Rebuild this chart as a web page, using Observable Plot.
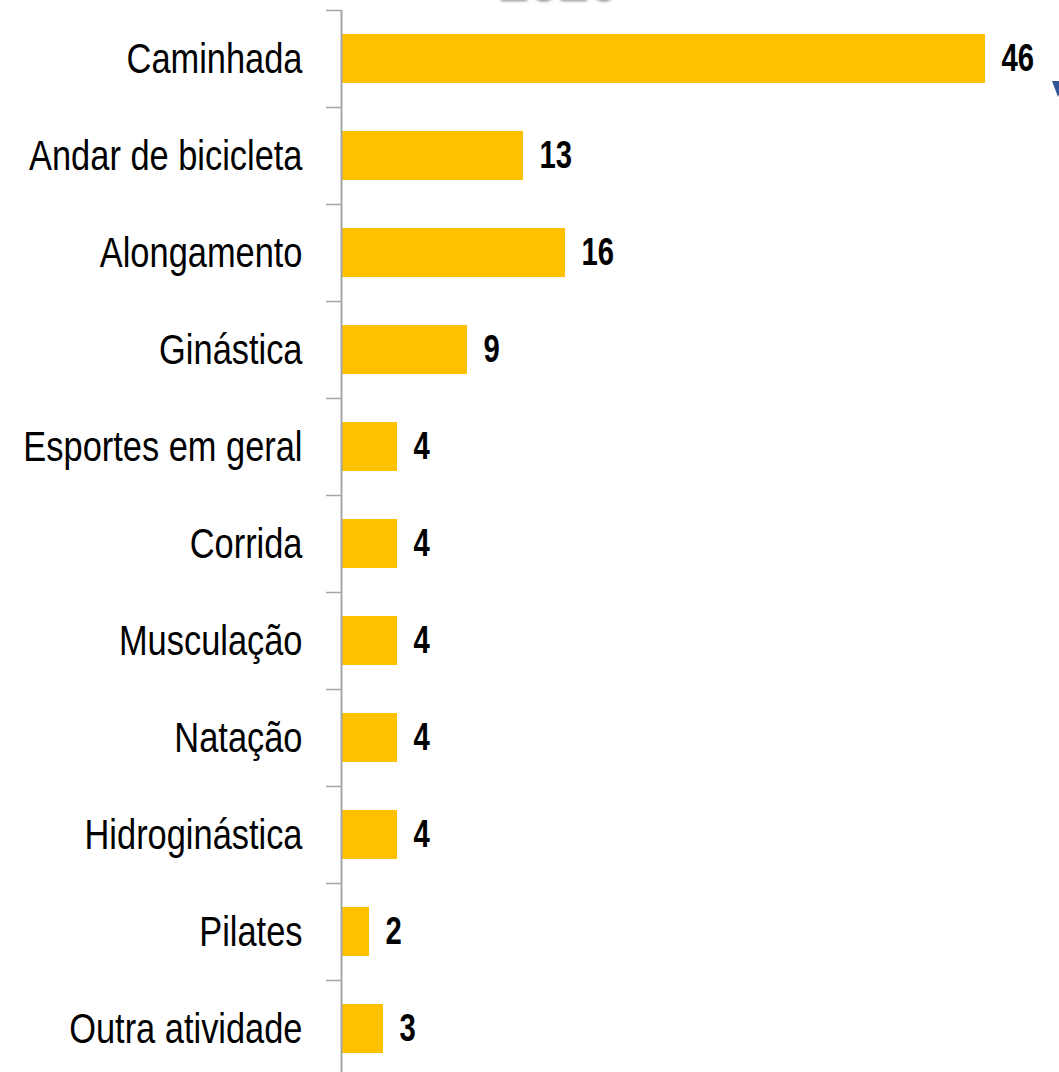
<!DOCTYPE html>
<html>
<head>
<meta charset="utf-8">
<script src="https://cdn.jsdelivr.net/npm/d3@7"></script>
<script src="https://cdn.jsdelivr.net/npm/@observablehq/plot@0.6"></script>
<style>
  html, body { margin: 0; padding: 0; background: #fff; overflow: hidden; }
  #wrap { position: relative; width: 1059px; height: 1072px; overflow: hidden; }
  #title { position: absolute; left: 497px; top: -52px; font: bold 54px "Liberation Sans", Arial, sans-serif; color: #3a3a3a; text-shadow: 2px 3px 3px rgba(0,0,0,0.45); }
  #tri { position: absolute; left: 1052px; top: 81px; width: 0; height: 0; border-left: 6px solid transparent; border-right: 6px solid transparent; border-top: 16px solid #2F5597; }
  #chart { position: absolute; left: 0; top: 0; }
</style>
</head>
<body>
<div id="wrap">
  <div id="chart"></div>
  <div id="title">2020</div>
  <div id="tri"></div>
</div>
<script>
const categories = ["Caminhada", "Andar de bicicleta", "Alongamento", "Ginástica", "Esportes em geral", "Corrida", "Musculação", "Natação", "Hidroginástica", "Pilates", "Outra atividade"];
const values = [46, 13, 16, 9, 4, 4, 4, 4, 4, 2, 3];

const data = categories.map((c, i) => ({category: c, value: values[i]}));

const step = 97;
const marginTop = 10;
const height = marginTop + step * categories.length;
const marginLeft = 341;
const width = 1059;
const pxPerUnit = 14;
const xMax = (width - marginLeft) / pxPerUnit;
const tickUnits = 15 / pxPerUnit;
const font = "'Liberation Sans', Arial, sans-serif";

const chart = Plot.plot({
  width,
  height,
  marginLeft,
  marginRight: 0,
  marginTop,
  marginBottom: 0,
  style: {background: "#fff", overflow: "visible"},
  x: {domain: [0, xMax], axis: null},
  y: {domain: categories, paddingInner: 0.5, paddingOuter: 0.25, align: 0.5},
  marks: [
    Plot.barX(data, {y: "category", x: "value", fill: "#FFC000"}),
    Plot.ruleY(categories, {y: d => d, x1: -tickUnits, x2: 0, dy: -step / 2, stroke: "#a6a6a6", strokeWidth: 1.5}),
    Plot.ruleX([0], {stroke: "#a6a6a6", strokeWidth: 2}),
    Plot.axisY({tickSize: 0, tickPadding: 39, fontSize: 43, fill: "#000", fontFamily: font, label: null, className: "catlab"}),
    Plot.text(data, {y: "category", x: "value", text: d => String(d.value), textAnchor: "start", dx: 16, fontSize: 39, fontWeight: "bold", fill: "#000", fontFamily: font, className: "vallab"})
  ]
});
document.getElementById("chart").appendChild(chart);

// horizontally condense glyphs (narrow typeface look) via textLength
function condense(selector, s) {
  chart.querySelectorAll(selector).forEach(t => {
    const w = t.getComputedTextLength();
    if (w > 0) {
      t.setAttribute("textLength", (w * s).toFixed(2));
      t.setAttribute("lengthAdjust", "spacingAndGlyphs");
    }
  });
}
condense(".catlab text", 0.8);
condense(".vallab text", 0.75);
</script>
</body>
</html>
